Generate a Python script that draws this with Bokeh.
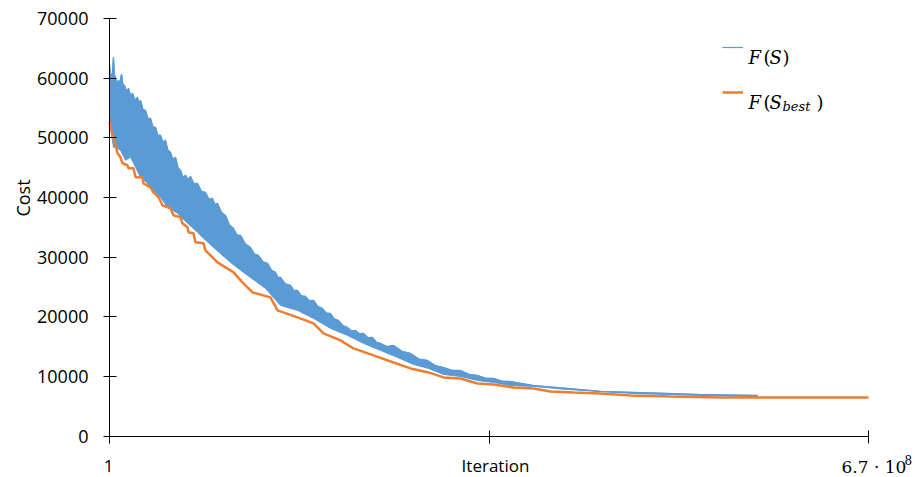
import math
from bokeh.plotting import figure
from bokeh.models import Range1d, FixedTicker, Label, Legend, LegendItem
from bokeh.embed import file_html
from bokeh.resources import INLINE

# ---- data (iterations in millions, cost) ----
x_ticks = [0, 335, 670]
y_ticks = [0, 10000, 20000, 30000, 40000, 50000, 60000, 70000]

# F(S): upper and lower edges of the noisy band
iter_hi = [0, 0.9, 1.8, 2.6, 3.5, 4.4, 5.3, 6.6, 7.9, 9.2, 10.6, 11.9, 13.2, 15.0, 16.8, 18.5,
           20.3, 22.5, 24.7, 26.0, 27.4, 29.6, 31.8, 34.0, 36.2, 38.4, 40.6, 42.8, 45.0, 47.2,
           49.4, 51.6, 53.8, 56.0, 58.3, 60.5, 62.7, 64.9, 67.1, 69.3, 71.5, 74.6, 77.7, 81.2,
           84.7, 87.8, 90.9, 93.1, 95.3, 98.8, 102.4, 105.9, 109.4, 112.5, 115.6, 120.0, 124.4,
           128.0, 131.5, 135.5, 139.5, 143.0, 146.5, 148.7, 150.9, 155.3, 159.8, 162.8, 165.9,
           169.5, 173.0, 176.5, 180.1, 184.0, 188.0, 191.5, 195.1, 198.6, 202.1, 206.1, 210.1,
           213.6, 217.2, 220.7, 224.2, 228.2, 232.2, 235.7, 239.2, 245.0, 250.7, 258.2, 265.7,
           273.2, 280.7, 287.7, 294.8, 302.3, 309.8, 317.3, 324.8, 331.9, 339.0, 346.5, 354.0,
           374.3, 404.3, 433.4, 462.5, 492.6, 521.7, 572.0]
cost_hi = [62340, 60700, 60500, 60900, 63510, 60600, 59990, 59000, 59650, 59300, 60660, 58900,
           58810, 57800, 58310, 57100, 57470, 56300, 56800, 55800, 56300, 54700, 54600, 53200,
           53280, 51800, 51770, 50400, 50430, 49300, 49590, 47900, 47570, 46400, 46730, 45000,
           44550, 43400, 43710, 43000, 43540, 42300, 42370, 41000, 40860, 39700, 39850, 38800,
           39010, 37500, 36990, 35400, 34820, 33700, 33640, 32200, 31630, 30500, 30290, 29200,
           28950, 27800, 27440, 26600, 26600, 25500, 25250, 24400, 24410, 23500, 23410, 22700,
           22740, 21700, 21390, 20600, 20550, 19600, 19380, 18500, 18210, 17600, 17700, 17150,
           17200, 16500, 16530, 15700, 15520, 15000, 15190, 14200, 13840, 12900, 12670, 11800,
           11490, 11000, 10990, 10350, 10150, 9700, 9650, 9200, 9140, 8470, 7970, 7470, 7300,
           7130, 6960, 6800]
iter_lo = [0, 0.9, 3.5, 5.3, 9.7, 14.1, 18.5, 21.2, 27.4, 33.5, 38.8, 45.0, 51.2, 60.0, 68.9,
           77.7, 83.0, 91.8, 106.8, 121.8, 137.7, 150.9, 165.9, 180.1, 195.1, 210.1, 224.2,
           239.2, 254.2, 268.3, 281.6, 294.8, 309.8, 324.8, 339.0, 354.0, 374.3, 404.3, 433.4,
           462.5, 492.6, 521.7, 572.0]
cost_lo = [52100, 51770, 48410, 48410, 47910, 46230, 46730, 45730, 43380, 42370, 41200, 40020,
           38350, 37340, 35660, 34150, 33140, 31630, 29110, 26930, 24750, 21900, 21060, 19720,
           18040, 16870, 15530, 14350, 13180, 12000, 11330, 10320, 9980, 9310, 8980, 8470, 8310,
           7800, 7470, 7130, 6960, 6800, 6630]

# F(S_best)
iter_best = [0, 2.6, 3.5, 5.3, 7.1, 9.7, 11.5, 15.9, 16.8, 21.2, 23.0, 29.1, 30.0, 36.2, 38.8,
             43.3, 46.8, 53.8, 56.5, 62.7, 64.4, 68.9, 69.7, 74.1, 75.9, 83.0, 84.7, 95.3,
             106.8, 109.5, 117.4, 126.2, 142.1, 148.3, 166.0, 180.1, 188.9, 203.9, 215.4,
             233.0, 250.7, 265.7, 281.6, 294.8, 309.8, 324.8, 339.0, 356.6, 374.3, 389.3,
             409.6, 433.4, 459.9, 495.2, 539.3, 670.0]
cost_best = [52600, 50430, 50090, 48750, 47410, 46730, 45730, 45390, 44890, 44890, 43380, 43380,
             42370, 41700, 40860, 40020, 38680, 38180, 37000, 36660, 35660, 34990, 34150, 33980,
             32470, 32300, 31130, 29110, 27770, 27440, 25760, 24080, 23240, 21060, 19880, 18880,
             17200, 16030, 14680, 13510, 12330, 11330, 10660, 9820, 9650, 8810, 8640, 8140,
             7970, 7470, 7300, 7130, 6800, 6630, 6460, 6460]

BLUE = "#5B9BD5"
ORANGE = "#ED7D31"
SANS = "Open Sans"
SERIF = "DejaVu Serif"

W, H = 923, 477
# layout: axis origin at pixel (109, 435.5), x=670 at px 868, y=70000 at px 18
XPX = 670 / 759
YPX = 70000 / 417.5

def dx(px):
    return (px - 109) * XPX

def dy(py):
    return (435.5 - py) * YPX

p = figure(width=W, height=H, output_backend="svg", toolbar_location=None,
           x_range=Range1d(dx(0), dx(W)), y_range=Range1d(dy(H), dy(0)),
           min_border=0, min_border_left=0, min_border_right=0,
           min_border_top=0, min_border_bottom=0)
p.outline_line_color = None
p.grid.visible = False
p.background_fill_color = "white"
p.border_fill_color = "white"

# axes pinned at the origin, limited to the data span
p.xaxis.fixed_location = 0
p.xaxis.bounds = (0, 670)
p.xaxis.ticker = FixedTicker(ticks=x_ticks)
p.xaxis.major_label_text_color = None
p.xaxis.major_tick_in = 6
p.xaxis.major_tick_out = 7
p.xaxis.minor_tick_line_color = None
p.xaxis.axis_line_color = "black"
p.xaxis.major_tick_line_color = "black"

p.yaxis.fixed_location = 0
p.yaxis.bounds = (0, 70000)
p.yaxis.ticker = FixedTicker(ticks=y_ticks)
p.yaxis.major_tick_in = 7
p.yaxis.major_tick_out = 6
p.yaxis.minor_tick_line_color = None
p.yaxis.major_label_standoff = 15
p.yaxis.major_label_text_font = SANS
p.yaxis.major_label_text_font_size = "18px"
p.yaxis.major_label_text_color = "black"
p.yaxis.axis_line_color = "black"
p.yaxis.major_tick_line_color = "black"

# series
band_x = iter_hi + iter_lo[::-1]
band_y = cost_hi + cost_lo[::-1]
p.patch(band_x, band_y, fill_color=BLUE, line_color=BLUE, line_width=1)
blue_line = p.line(iter_hi, cost_hi, line_color=BLUE, line_width=1.2)
orange_line = p.line(iter_best, cost_best, line_color=ORANGE, line_width=2.5)

legend = Legend(items=[LegendItem(label=" ", renderers=[blue_line]),
                       LegendItem(label=" ", renderers=[orange_line])],
                location=(722, H - 102), glyph_width=21, glyph_height=20, label_height=20,
                spacing=25, padding=0, margin=0, label_standoff=0,
                label_text_font_size="1px", border_line_alpha=0, background_fill_alpha=0)
p.add_layout(legend)

def add_text(px, py, text, font, size, style="normal", align="left", baseline="alphabetic",
             angle=0.0):
    p.add_layout(Label(x=dx(px), y=dy(py), text=text, text_font=font, text_font_size=size,
                       text_font_style=style, text_align=align, text_baseline=baseline,
                       angle=angle, text_color="black"))

# legend texts (math style)
for row_y in (57, 102):
    add_text(748, row_y, "F", SERIF, "18px", "italic")
    add_text(763, row_y, "(", SERIF, "18px")
    add_text(769, row_y, "S", SERIF, "18px", "italic")
add_text(782, 57, ")", SERIF, "18px")
add_text(782, 106, "best", SERIF, "13px", "italic")
add_text(816, 102, ")", SERIF, "18px")

# x tick labels and axis titles
add_text(108, 465, "1", SANS, "17px", align="center")
add_text(495, 465, "Iteration", SANS, "17px", align="center")
add_text(841, 466, "6.7 · 10", SERIF, "17px")
add_text(904, 459, "8", SERIF, "12px")
add_text(22, 197.5, "Cost", SANS, "18px", align="center", baseline="middle",
         angle=math.pi / 2)

open("out.html", "w").write(file_html(p, INLINE))
